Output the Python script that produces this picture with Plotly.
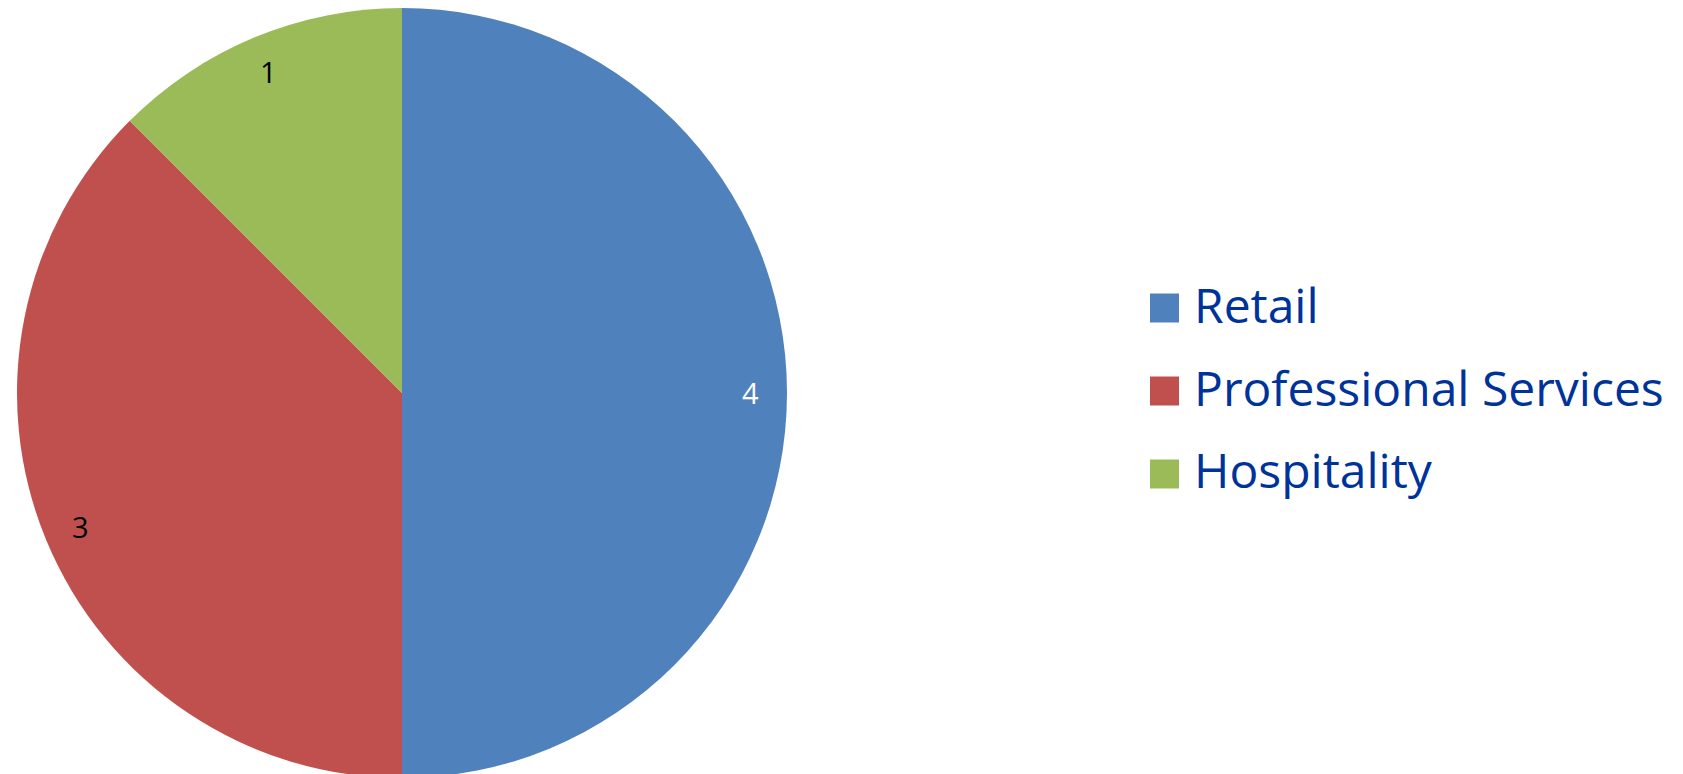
import math
import plotly.graph_objects as go

# ---- data ----
categories = ["Retail", "Professional Services", "Hospitality"]
values = [4, 3, 1]

# ---- style ----
colors = ["#4F81BD", "#C0504D", "#9BBB59"]
label_colors = ["white", "black", "black"]
W, H = 1683, 774
pie_left, pie_diam = 9, 770
legend_x0, legend_y0, legend_dy = 1142, 300, 83
sq = 29

fig = go.Figure()
fig.add_trace(go.Pie(
    labels=categories,
    values=values,
    sort=False,
    direction="clockwise",
    rotation=0,
    marker=dict(colors=colors, line=dict(width=0)),
    textinfo="none",
    hoverinfo="label+value",
    showlegend=False,
    domain=dict(x=[pie_left / W, (pie_left + pie_diam) / W],
                y=[1 - pie_diam / H, 1]),
))

# data labels placed along each slice's mid-angle, near the rim
cx = pie_left + pie_diam / 2
cy = pie_diam / 2
r = pie_diam / 2
total = sum(values)
cum = 0
annotations = []
shapes = []
for i, (cat, v) in enumerate(zip(categories, values)):
    mid = (cum + v / 2) / total * 2 * math.pi
    cum += v
    frac = 0.905
    px = cx + r * frac * math.sin(mid)
    py = cy - r * frac * math.cos(mid)
    annotations.append(dict(
        x=px / W, y=1 - py / H, xref="paper", yref="paper",
        text=str(v), showarrow=False,
        font=dict(family="Open Sans", size=29, color=label_colors[i]),
        xanchor="center", yanchor="middle",
    ))
    # legend entry
    ly = legend_y0 + i * legend_dy
    shapes.append(dict(
        type="rect", xref="paper", yref="paper",
        x0=legend_x0 / W, x1=(legend_x0 + sq) / W,
        y0=1 - (ly - sq / 2) / H, y1=1 - (ly + sq / 2) / H,
        fillcolor=colors[i], line=dict(width=0),
    ))
    annotations.append(dict(
        x=(legend_x0 + sq + 13) / W, y=1 - (ly - 4) / H, xref="paper", yref="paper",
        text=cat, showarrow=False,
        font=dict(family="Open Sans", size=48, color="#003399"),
        xanchor="left", yanchor="middle",
    ))

fig.update_layout(
    width=W, height=H,
    margin=dict(l=0, r=0, t=0, b=0),
    paper_bgcolor="white",
    plot_bgcolor="white",
    annotations=annotations,
    shapes=shapes,
)

fig.write_html("out.html")
